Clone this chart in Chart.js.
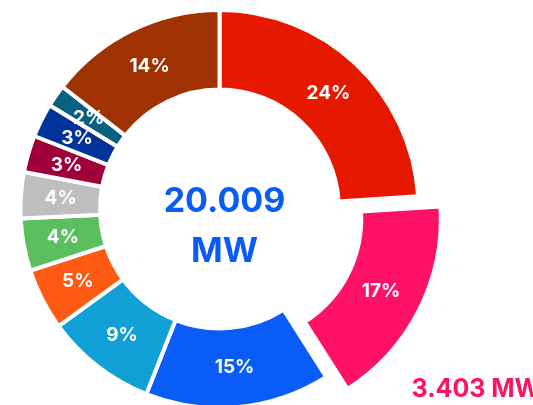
<!DOCTYPE html>
<html>
<head>
<meta charset="utf-8">
<script src="https://cdn.jsdelivr.net/npm/chart.js@4/dist/chart.umd.min.js"></script>
<style>
  html, body { margin: 0; padding: 0; background: #ffffff; overflow: hidden; width: 533px; height: 405px; }
  #wrap { width: 533px; height: 418px; position: relative; }
</style>
</head>
<body>
<div id="wrap"><canvas id="c"></canvas></div>
<script>
const categories = ['Fonte 1', 'Fonte 2', 'Fonte 3', 'Fonte 4', 'Fonte 5', 'Fonte 6', 'Fonte 7', 'Fonte 8', 'Fonte 9', 'Fonte 10', 'Fonte 11'];
const valuesMW = [4.80, 3.403, 3.00, 1.80, 1.00, 0.85, 0.75, 0.60, 0.55, 0.36, 2.896];
const sliceColors = ['#E61900', '#FF1166', '#0A5CF7', '#10A0D6', '#FF5A14', '#5BBF60', '#BFBFBF', '#A0003A', '#003299', '#0A6080', '#A03100'];
const highlightIndex = 1;
const totalText = ['20.009', 'MW'];
const highlightText = '3.403 MW';

const total = valuesMW.reduce((a, b) => a + b, 0);

const labelsPlugin = {
  id: 'labelsPlugin',
  afterDatasetsDraw(chart) {
    const ctx = chart.ctx;
    const meta = chart.getDatasetMeta(0);
    ctx.save();
    ctx.fillStyle = '#ffffff';
    ctx.font = 'bold 19px Inter, "Noto Sans", sans-serif';
    ctx.textAlign = 'center';
    ctx.textBaseline = 'middle';
    meta.data.forEach((arc, i) => {
      const mid = (arc.startAngle + arc.endAngle) / 2;
      const rr = (arc.innerRadius + arc.outerRadius) / 2 + (arc.options.offset || 0) / 4;
      const pct = Math.round(valuesMW[i] / total * 100) + '%';
      ctx.fillText(pct, arc.x + Math.cos(mid) * rr, arc.y + Math.sin(mid) * rr);
    });
    // center text
    const a0 = meta.data[0];
    const cx = a0.x, cy = a0.y;
    ctx.fillStyle = '#0A5CF7';
    ctx.font = 'bold 34px Inter, "Noto Sans", sans-serif';
    ctx.textBaseline = 'alphabetic';
    ctx.fillText(totalText[0], cx + 5, cy + 3);
    ctx.fillText(totalText[1], cx + 5, cy + 53);
    // highlight callout
    const h = meta.data[highlightIndex];
    ctx.fillStyle = sliceColors[highlightIndex];
    ctx.font = 'bold 25px Inter, "Noto Sans", sans-serif';
    ctx.textAlign = 'left';
    ctx.fillText(highlightText, h.x + h.outerRadius * 0.965, h.y + h.outerRadius * 0.945);
    ctx.restore();
  }
};

new Chart(document.getElementById('c'), {
  type: 'doughnut',
  data: {
    labels: categories,
    datasets: [{
      data: valuesMW,
      backgroundColor: sliceColors,
      borderColor: '#ffffff',
      borderWidth: 4,
      offset: valuesMW.map((v, i) => i === highlightIndex ? 88 : 0),
      hoverOffset: 0
    }]
  },
  options: {
    responsive: true,
    maintainAspectRatio: false,
    animation: false,
    radius: 199,
    cutout: '60%',
    layout: { padding: { left: 0, right: 94, top: 0, bottom: 0 } },
    plugins: {
      legend: { display: false },
      tooltip: { enabled: false }
    },
    events: []
  },
  plugins: [labelsPlugin]
});
</script>
</body>
</html>
